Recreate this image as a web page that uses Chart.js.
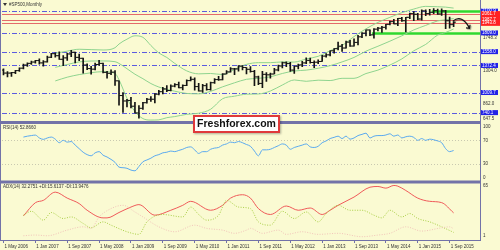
<!DOCTYPE html>
<html>
<head>
<meta charset="utf-8">
<script src="https://cdn.jsdelivr.net/npm/chart.js@4.4.1/dist/chart.umd.min.js"></script>
<style>
	html, body { margin: 0; padding: 0; background: #fafad2; }
	#wrap { width: 500px; height: 250px; }
</style>
</head>
<body>
<div id="wrap"><canvas id="chart" width="500" height="250"></canvas></div>
<script>
/*************************
DATA
*************************/

//month index 0 = May 2006, one bar per month up to Oct 2015
const dateLabels = ['1 May 2006', '1 Jan 2007', '1 Sep 2007', '1 May 2008', '1 Jan 2009', '1 Sep 2009', '1 May 2010', '1 Jan 2011', '1 Sep 2011', '1 May 2012', '1 Jan 2013', '1 Sep 2013', '1 May 2014', '1 Jan 2015', '1 Sep 2015'];
const dateAt = [0, 8, 16, 24, 32, 40, 48, 56, 64, 72, 80, 88, 96, 104, 112];

const opens = [1310.6,1270.1,1270.2,1276.7,1303.8,1335.9,1377.9,1400.6,
	1418.3,1438.2,1406.8,1420.9,1482.4,1530.6,1503.4,1455.3,1474.0,1526.8,1549.4,1481.1,
	1468.4,1378.6,1330.6,1322.7,1385.6,1400.4,1280.0,1267.4,1282.8,1166.4,968.8,896.2,
	903.3,825.9,735.1,797.9,872.8,919.1,919.3,987.5,1020.6,1057.1,1036.2,1095.6,
	1115.1,1073.9,1104.5,1169.4,1186.7,1089.4,1030.7,1101.6,1049.3,1141.2,1183.3,1180.6,
	1257.6,1286.1,1327.2,1325.8,1363.6,1345.2,1320.6,1292.3,1218.9,1131.4,1253.3,1247.0,
	1257.6,1312.4,1365.7,1408.5,1397.9,1310.3,1362.2,1379.3,1406.6,1440.7,1412.2,1416.2,
	1426.2,1498.1,1514.7,1569.2,1597.6,1630.7,1606.3,1685.7,1633.0,1681.6,1756.5,1805.8,
	1848.4,1782.6,1859.5,1872.3,1884.0,1923.6,1960.2,1930.7,2003.4,1972.3,2018.1,2067.6,
	2058.9,1995.0,2104.5,2067.9,2085.5,2107.4,2063.1,2103.8,1972.2,1920.0];
const highs = [1326.7,1290.7,1280.4,1306.7,1340.3,1389.5,1407.9,1431.8,
	1441.6,1461.6,1438.9,1498.0,1535.6,1540.6,1555.9,1503.9,1538.7,1576.1,1552.8,1523.6,
	1471.8,1396.0,1359.7,1404.6,1440.2,1404.1,1292.2,1313.2,1303.0,1167.0,1007.5,918.9,
	943.9,877.9,832.9,877.0,930.2,956.2,996.7,1039.5,1080.2,1101.4,1113.7,1130.4,
	1150.5,1112.4,1180.2,1219.8,1206.0,1131.2,1120.9,1129.2,1150.3,1196.1,1227.1,1262.6,
	1302.7,1344.1,1332.3,1370.6,1370.6,1345.2,1356.5,1307.4,1229.3,1292.7,1277.6,1269.4,
	1333.5,1378.0,1419.2,1422.4,1415.3,1363.5,1391.7,1426.7,1474.5,1470.9,1434.3,1448.0,
	1509.9,1530.9,1570.3,1597.6,1687.2,1654.2,1698.8,1709.7,1729.9,1775.2,1813.6,1849.4,
	1850.8,1867.9,1883.9,1897.3,1924.0,1968.2,1991.4,2005.0,2019.3,2018.2,2075.8,2093.6,
	2072.4,2119.6,2117.5,2125.9,2134.7,2129.9,2132.8,2112.7,2021.0,1960.0];
const lows = [1245.3,1219.3,1224.5,1261.3,1290.9,1327.1,1360.9,1385.9,
	1403.9,1389.4,1363.9,1416.4,1476.7,1484.2,1454.3,1370.6,1439.3,1489.6,1406.1,1435.7,
	1270.1,1316.8,1256.9,1312.3,1373.7,1272.0,1200.4,1247.5,1106.4,839.8,741.0,815.7,
	804.3,734.5,666.8,783.3,866.1,888.9,869.3,978.5,991.9,1020.2,1029.4,1085.9,
	1071.6,1044.5,1101.4,1164.0,1040.8,1028.3,1010.9,1040.8,1039.7,1131.9,1173.0,1178.0,
	1257.6,1284.0,1249.1,1294.7,1311.8,1258.1,1282.9,1101.5,1114.2,1074.8,1158.7,1202.4,
	1257.6,1300.8,1340.0,1357.4,1291.0,1266.7,1325.4,1354.7,1396.6,1403.3,1343.4,1398.1,
	1426.2,1485.0,1501.5,1536.0,1581.3,1560.3,1604.6,1627.5,1632.0,1646.5,1746.2,1767.9,
	1770.5,1737.9,1834.4,1814.4,1859.8,1915.9,1930.7,1904.8,1964.0,1820.7,2001.0,1972.6,
	1988.1,1980.9,2039.7,2048.4,2067.9,2056.3,2044.0,1867.0,1871.9,1893.7];
const closes = [1270.1,1270.2,1276.7,1303.8,1335.9,1377.9,1400.6,1418.3,
	1438.2,1406.8,1420.9,1482.4,1530.6,1503.4,1455.3,1474.0,1526.8,1549.4,1481.1,1468.4,
	1378.6,1330.6,1322.7,1385.6,1400.4,1280.0,1267.4,1282.8,1166.4,968.8,896.2,903.3,
	825.9,735.1,797.9,872.8,919.1,919.3,987.5,1020.6,1057.1,1036.2,1095.6,1115.1,
	1073.9,1104.5,1169.4,1186.7,1089.4,1030.7,1101.6,1049.3,1141.2,1183.3,1180.6,1257.6,
	1286.1,1327.2,1325.8,1363.6,1345.2,1320.6,1292.3,1218.9,1131.4,1253.3,1247.0,1257.6,
	1312.4,1365.7,1408.5,1397.9,1310.3,1362.2,1379.3,1406.6,1440.7,1412.2,1416.2,1426.2,
	1498.1,1514.7,1569.2,1597.6,1630.7,1606.3,1685.7,1633.0,1681.6,1756.5,1805.8,1848.4,
	1782.6,1859.5,1872.3,1884.0,1923.6,1960.2,1930.7,2003.4,1972.3,2018.1,2067.6,2058.9,
	1995.0,2104.5,2067.9,2085.5,2107.4,2063.1,2103.8,1972.2,1920.0,1951.4];

//bollinger bands at these months
const bbAt = [13,16,19,22,25,28,29,31,33,35,37,39,41,43,46,49,52,55,58,61,64,67,70,73,76,79,82,85,88,91,94,97,100,103,106,109,111,113];
const bbUpper = [1535,1565,1590,1585,1580,1610,1660,1725,1770,1750,1640,1540,1480,1400,1300,1260,1265,1250,1320,1387,1410,1410,1420,1418,1460,1495,1570,1640,1760,1864,1950,2018,2080,2129,2165,2160,2155,2142];
const bbMiddle = [1347,1385,1420,1432,1433,1423,1400,1329,1255,1195,1130,1083,1052,1027,997,992,1025,1086,1140,1187,1200,1220,1265,1298,1310,1335,1370,1420,1480,1564,1630,1698,1770,1849,1910,1970,1985,2002];
const bbLower = [1165,1215,1250,1275,1290,1265,1180,933,755,660,640,643,672,687,717,732,785,926,960,987,990,1030,1110,1178,1160,1175,1170,1200,1200,1264,1310,1378,1460,1569,1655,1780,1815,1862];

//RSI(14), one value per month from month 5
const rsiStart = 5;
const rsi = [75.5,77,78,78.8,74,71.6,74,75.5,72,66,
	70,67,68,62,56,50,46,44,49,51,
	45,42,38,33,25,24,23,20,18.8,26,
	34,37,40,44,46,49,50,52,51,53,
	55,58,59,54,48,51,51,55,57,58,
	62,64,67,66,68,66,63,60,52,44,
	54,54,55,58,61,64,62,55,58,60,
	62,64,59,58,60,66,69,73,75,77,
	73,77,72,74,78,80,82,74,77,78,
	78,79,81,77,79,74,76,77,75,70,
	73,70,72,71,69,66,56,51,52.9];

//ADX(14) lines
const adxAt = [5,8,10,13,16,19,21,25,26,29,32,34,38,42,45,47,52,55,57,60,62,64,67,71,74,77,80,82,84,88,92,94,96,98,99,101,104,107,110,113];
const adx = [28.8,44,46.7,56.2,49.3,43,35.3,26.5,26.5,32.7,39,41.8,29.6,35.3,41,45.6,35.3,41,49.3,53.2,49.3,37.2,30.4,40.2,35.3,37.9,30.4,35.3,41,50.5,61.9,62.7,60.8,63.9,63.1,58.1,49.3,45.6,44.1,32.3];
const plusDiAt = [5,7,10,12,15,17,20,22,25,27,31,34,36,40,45,47,49,51,54,56,59,62,64,67,70,73,76,79,81,84,87,90,93,95,97,100,102,104,107,110,113];
const plusDi = [29.6,34.1,23.9,32.7,25.8,27.6,20.1,15.1,21.9,18.1,10.5,7.5,21.9,30.4,27.6,39,30.4,23.9,29.6,46.7,39,37.2,21.9,18.1,34.1,25.8,33.3,21.9,31.5,41,35.3,35.3,29.6,26.5,35.3,27.6,31.5,25.8,21.9,16.2,9.8];
const minusDiAt = [5,8,11,16,20,22,24,27,30,33,35,39,43,48,51,55,58,61,62,65,69,71,75,79,84,90,94,97,101,105,110,112,113];
const minusDi = [5.9,6.7,5.9,12.4,16.2,14.4,27.6,37.2,41,33.3,27.6,16.2,10.5,18.1,14.4,12.4,8.7,12.4,14.4,8.7,12.4,7.5,10.5,7.5,8.7,4.8,6.7,8.7,16.2,11.3,15.1,16.2,14];

//price levels drawn on the chart
const blueLevels = [2100.9, 1809.0, 1558.0, 1372.4, 1009.7, 740.1];
const redLevels = [2061.7, 1987.7, 1943.8];
const greenLevels = [2100.9, 1809.0];
const greenFrom = [107.5, 92.5];
const priceTicks = [1748.3, 1304.0, 862.0, 647.5];
const rsiTicks = [100, 70, 30, 0];
const rsiLevels = [70, 30];
const adxTicks = [65, 1];

/*************************
STYLE
*************************/

const bgColor = '#fafad2';
const frameColor = '#7272a8';
const barColor = '#141414';
const bandColor = '#8fd48f';
const font = '"Liberation Sans", Arial, sans-serif';

/*************************
HELPERS
*************************/

function pairs(at, values){
	return values.map((v, i) => ({x: at[i], y: v}));
}

function lineSet(data, axis, color, dash){
	return {
		type: 'line',
		data: data,
		yAxisID: axis,
		borderColor: color,
		borderWidth: 1,
		borderDash: dash || [],
		pointRadius: 0,
		pointHoverRadius: 0,
		cubicInterpolationMode: 'monotone',
	};
}

function tickSet(values, shift){
	return {
		type: 'line',
		data: values.map((v, i) => ({x: i + shift, y: v})),
		yAxisID: 'y',
		showLine: false,
		pointStyle: 'line',
		pointRadius: 1,
		pointHoverRadius: 0,
		pointBorderWidth: 1,
		pointBorderColor: barColor,
	};
}

function text(ctx, str, x, y, color, size, weight){
	ctx.font = (weight || '') + ' ' + size + 'px ' + font;
	ctx.fillStyle = color;
	ctx.fillText(str, x, y);
}

/*************************
PLUGIN (background, levels, labels)
*************************/

const mt4Plugin = {
	id: 'mt4',
	beforeDraw(chart){
		const ctx = chart.ctx;
		ctx.save();
		ctx.fillStyle = bgColor;
		ctx.fillRect(0, 0, chart.width, chart.height);
		ctx.restore();
	},
	beforeDatasetsDraw(chart){
		const ctx = chart.ctx;
		const area = chart.chartArea;
		const xs = chart.scales.x, ys = chart.scales.y, yr = chart.scales.yr;
		function hline(scale, v, x0, color, w, dash){
			const py = Math.round(scale.getPixelForValue(v)) + 0.5;
			ctx.beginPath();
			ctx.setLineDash(dash);
			ctx.strokeStyle = color;
			ctx.lineWidth = w;
			ctx.moveTo(x0, py);
			ctx.lineTo(area.right, py);
			ctx.stroke();
		}
		ctx.save();
		rsiLevels.forEach(v => hline(yr, v, area.left, '#c9c9b0', 1, [1, 2]));
		redLevels.forEach(v => hline(ys, v, area.left, '#e46a6a', 1, []));
		blueLevels.forEach(v => hline(ys, v, area.left, '#5b5be0', 1, [5, 2, 1, 2]));
		greenLevels.forEach((v, i) => hline(ys, v, xs.getPixelForValue(greenFrom[i]), '#2fd82f', 2.5, []));
		ctx.restore();
	},
	beforeDatasetDraw(chart, args){
		//keep each line inside its own panel
		const ys = args.meta.yScale, area = chart.chartArea, ctx = chart.ctx;
		ctx.save();
		ctx.beginPath();
		ctx.rect(area.left, ys.top, area.right - area.left, ys.bottom - ys.top);
		ctx.clip();
	},
	afterDatasetDraw(chart){
		chart.ctx.restore();
	},
	afterDraw(chart){
		const ctx = chart.ctx;
		const area = chart.chartArea;
		const xs = chart.scales.x, ys = chart.scales.y, yr = chart.scales.yr, ya = chart.scales.ya;
		ctx.save();

		//frame and panel separators
		ctx.strokeStyle = frameColor;
		ctx.lineWidth = 1;
		ctx.beginPath();
		ctx.moveTo(0.5, 0); ctx.lineTo(0.5, area.bottom);
		ctx.moveTo(area.right + 0.5, 0); ctx.lineTo(area.right + 0.5, area.bottom + 1);
		ctx.moveTo(0, area.bottom + 0.5); ctx.lineTo(area.right, area.bottom + 0.5);
		ctx.stroke();
		ctx.lineWidth = 3;
		ctx.beginPath();
		ctx.moveTo(0, ys.bottom); ctx.lineTo(area.right, ys.bottom);
		ctx.moveTo(0, yr.bottom); ctx.lineTo(area.right, yr.bottom);
		ctx.stroke();

		//right scale labels
		ctx.textBaseline = 'middle';
		ctx.textAlign = 'left';
		const lx = area.right + 3;
		function clampY(scale, v){
			return Math.min(Math.max(scale.getPixelForValue(v), scale.top + 4), scale.bottom - 4);
		}
		priceTicks.forEach(v => text(ctx, v.toFixed(1), lx, clampY(ys, v), '#333', 4.5));
		rsiTicks.forEach(v => text(ctx, String(v), lx, clampY(yr, v), '#333', 4.5));
		adxTicks.forEach(v => text(ctx, String(v), lx, clampY(ya, v), '#333', 4.5));

		blueLevels.forEach(v => {
			const py = ys.getPixelForValue(v);
			ctx.fillStyle = '#2222e6';
			ctx.fillRect(area.right + 1, py - 2.5, 17, 5);
			text(ctx, v.toFixed(1), lx - 1, py, '#ffffff', 4.5);
		});
		const rTop = ys.getPixelForValue(redLevels[0]) - 3;
		const rBottom = ys.getPixelForValue(redLevels[redLevels.length - 1]) + 3;
		ctx.fillStyle = '#ff2222';
		ctx.fillRect(area.right + 1, rTop, 19, rBottom - rTop);
		redLevels.forEach(v => text(ctx, v.toFixed(1), lx - 1, ys.getPixelForValue(v), '#ffffff', 4.5));

		//panel captions
		ctx.fillStyle = '#333';
		ctx.beginPath();
		ctx.moveTo(3, 3); ctx.lineTo(7, 3); ctx.lineTo(5, 6); ctx.closePath();
		ctx.fill();
		text(ctx, '#SP500,Monthly', 9, 4.5, '#333', 4.5);
		text(ctx, 'RSI(14) 52.8660', 3, yr.top + 5, '#333', 4.5);
		text(ctx, 'ADX(14) 32.2751 +DI:15.6137 -DI:13.9476', 3, ya.top + 5, '#333', 4.5);

		//curved arrow
		const p0 = [xs.getPixelForValue(112.8), ys.getPixelForValue(1967)];
		const pc = [xs.getPixelForValue(115.1), ys.getPixelForValue(2064)];
		const p1 = [xs.getPixelForValue(117.0), ys.getPixelForValue(1871)];
		ctx.strokeStyle = '#111';
		ctx.lineWidth = 1.2;
		ctx.shadowColor = 'rgba(0,0,0,0.35)';
		ctx.shadowOffsetX = 1;
		ctx.shadowOffsetY = 1;
		ctx.shadowBlur = 1;
		ctx.beginPath();
		ctx.moveTo(p0[0], p0[1]);
		ctx.quadraticCurveTo(pc[0], pc[1], p1[0], p1[1]);
		ctx.moveTo(p1[0] - 3.5, p1[1] - 0.5);
		ctx.lineTo(p1[0], p1[1]);
		ctx.lineTo(p1[0] + 0.5, p1[1] - 3.5);
		ctx.stroke();

		//watermark
		ctx.shadowColor = 'rgba(0,0,0,0.3)';
		ctx.shadowBlur = 2;
		ctx.fillStyle = '#ffffff';
		ctx.fillRect(193, 115, 87, 18);
		ctx.shadowColor = 'transparent';
		ctx.strokeStyle = '#e03a3a';
		ctx.lineWidth = 2;
		ctx.strokeRect(194, 116, 85, 16);
		ctx.textAlign = 'center';
		text(ctx, 'Freshforex.com', 236.5, 124.5, '#111', 10.5, 'bold');
		ctx.restore();
	}
};

/*************************
CHART
*************************/

const datasets = [
	{
		type: 'bar',
		data: highs.map((h, i) => ({x: i, y: [lows[i], h]})),
		yAxisID: 'y',
		backgroundColor: barColor,
		barThickness: 1,
		borderWidth: 0,
		grouped: false,
	},
	tickSet(opens, -0.3),
	tickSet(closes, 0.3),
	lineSet(pairs(bbAt, bbUpper), 'y', bandColor),
	lineSet(pairs(bbAt, bbMiddle), 'y', bandColor),
	lineSet(pairs(bbAt, bbLower), 'y', bandColor),
	lineSet(rsi.map((v, i) => ({x: i + rsiStart, y: v})), 'yr', '#5aaaf0'),
	lineSet(pairs(minusDiAt, minusDi), 'ya', '#f2c4ba', [1, 1.5]),
	lineSet(pairs(plusDiAt, plusDi), 'ya', '#a9cf45', [1, 1.5]),
	lineSet(pairs(adxAt, adx), 'ya', '#f05a5a'),
];

function panelAxis(min, max, weight, stackWeight){
	return {
		type: 'linear',
		position: 'right',
		stack: 'panels',
		stackWeight: stackWeight,
		weight: weight,
		min: min,
		max: max,
		afterFit: s => { s.width = 20; },
		ticks: {display: false},
		grid: {display: false},
		border: {display: false},
	};
}

new Chart(document.getElementById('chart'), {
	type: 'bar',
	data: {datasets: datasets},
	plugins: [mt4Plugin],
	options: {
		responsive: false,
		animation: false,
		devicePixelRatio: 1,
		layout: {padding: 0},
		plugins: {legend: {display: false}, tooltip: {enabled: false}},
		scales: {
			x: {
				type: 'linear',
				min: -0.375,
				max: 119.625,
				offset: false,
				afterBuildTicks: s => { s.ticks = dateAt.map(v => ({value: v})); },
				afterFit: s => { s.height = 10; },
				ticks: {
					autoSkip: false,
					maxRotation: 0,
					align: 'start',
					labelOffset: 1,
					padding: 1,
					color: '#333',
					font: {size: 4.5, family: font},
					callback: (v, i) => dateLabels[i],
				},
				grid: {drawOnChartArea: false, tickLength: 3, color: frameColor, offset: false},
				border: {display: false},
			},
			y: panelAxis(607.6, 2223.6, 0, 121.5),
			yr: panelAxis(0, 100, 1, 60),
			ya: panelAxis(1, 67.9, 2, 58.5),
		},
	},
});
</script>
</body>
</html>
